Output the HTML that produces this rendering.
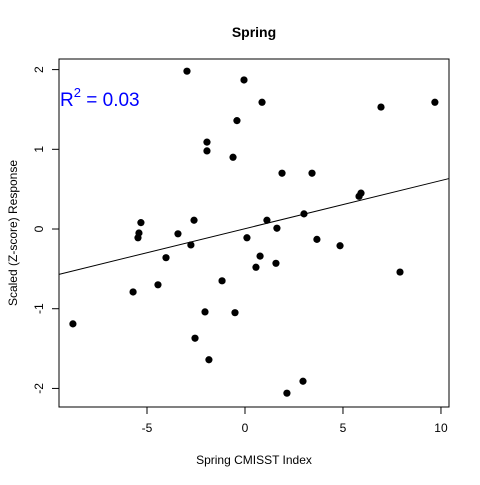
<!DOCTYPE html>
<html><head><meta charset="utf-8"><style>
body{margin:0;background:#fff}
svg text{font-family:"Liberation Sans",Arial,sans-serif}
</style></head><body>
<svg id="chart" width="480" height="480" xmlns="http://www.w3.org/2000/svg">
<rect width="480" height="480" fill="#fff"/>
<text x="254" y="37" text-anchor="middle" font-size="14" font-weight="bold">Spring</text>
<text x="254" y="464" text-anchor="middle" font-size="12">Spring CMISST Index</text>
<text transform="translate(17,233) rotate(-90)" text-anchor="middle" font-size="12">Scaled (Z-score) Response</text>
<rect x="59" y="59" width="390" height="348" fill="none" stroke="#000" stroke-width="1"/>
<g id="axes"></g>
<g id="marks"></g>
<text x="60" y="106" font-size="19" fill="#0000ff">R<tspan dy="-9" font-size="13">2</tspan><tspan dy="9"> = 0.03</tspan></text>
</svg>
<script>
const xVals=[-8.78,-5.71,-5.46,-5.41,-5.31,-4.44,-4.03,-3.42,-2.96,-2.76,-2.60,-2.55,-2.04,-1.94,-1.94,-1.84,-1.17,-0.61,-0.51,-0.41,-0.05,0.10,0.56,0.77,0.87,1.12,1.58,1.63,1.89,2.14,2.96,3.01,3.42,3.67,4.85,5.82,5.92,6.94,7.91,9.69];
const yVals=[-1.19,-0.79,-0.11,-0.05,0.08,-0.70,-0.36,-0.06,1.98,-0.20,0.11,-1.37,-1.04,1.09,0.98,-1.64,-0.65,0.90,-1.05,1.36,1.87,-0.11,-0.48,-0.34,1.59,0.11,-0.43,0.01,0.70,-2.06,-1.91,0.19,0.70,-0.13,-0.21,0.41,0.45,1.53,-0.54,1.59];
const xTicks=[-5,0,5,10];
const yTicks=[-2,-1,0,1,2];
const X0=59,X1=449,Y0=59,Y1=407,xmin=-9.49,xmax=10.41,ymin=-2.233,ymax=2.133;
const sx=v=>X0+(v-xmin)/(xmax-xmin)*(X1-X0);
const sy=v=>Y1-(v-ymin)/(ymax-ymin)*(Y1-Y0);
const NS="http://www.w3.org/2000/svg";
const axes=document.getElementById('axes'),marks=document.getElementById('marks');
function mk(t,a,p){const e=document.createElementNS(NS,t);for(const k in a)e.setAttribute(k,a[k]);p.appendChild(e);return e;}
xTicks.forEach(t=>{
 const l=mk('line',{x1:sx(t),x2:sx(t),y1:407,y2:414,stroke:'#000'},axes);
 
 
 const tx=mk('text',{x:sx(t),y:432,'text-anchor':'middle','font-size':12},axes);tx.textContent=t;
 
 
});
yTicks.forEach(t=>{
 const l=mk('line',{x1:52,x2:59,y1:sy(t),y2:sy(t),stroke:'#000'},axes);
 
 
 const tx=mk('text',{transform:`translate(43,${sy(t)}) rotate(-90)`,'text-anchor':'middle','font-size':12},axes);tx.textContent=t;
 
 
});
const n=xVals.length;let mx=0,my=0;xVals.forEach((v,i)=>{mx+=v;my+=yVals[i];});mx/=n;my/=n;
let sxy=0,sxx=0;xVals.forEach((v,i)=>{sxy+=(v-mx)*(yVals[i]-my);sxx+=(v-mx)*(v-mx);});
const b=sxy/sxx,a=my-b*mx;
const rl=mk('line',{x1:X0,y1:sy(a+b*xmin),x2:X1,y2:sy(a+b*xmax),stroke:'#000','stroke-width':1},marks);


xVals.forEach((v,i)=>{
 const c=mk('circle',{cx:sx(v),cy:sy(yVals[i]),r:3.6,fill:'#000'},marks);
 
 
});
</script>
</body></html>
